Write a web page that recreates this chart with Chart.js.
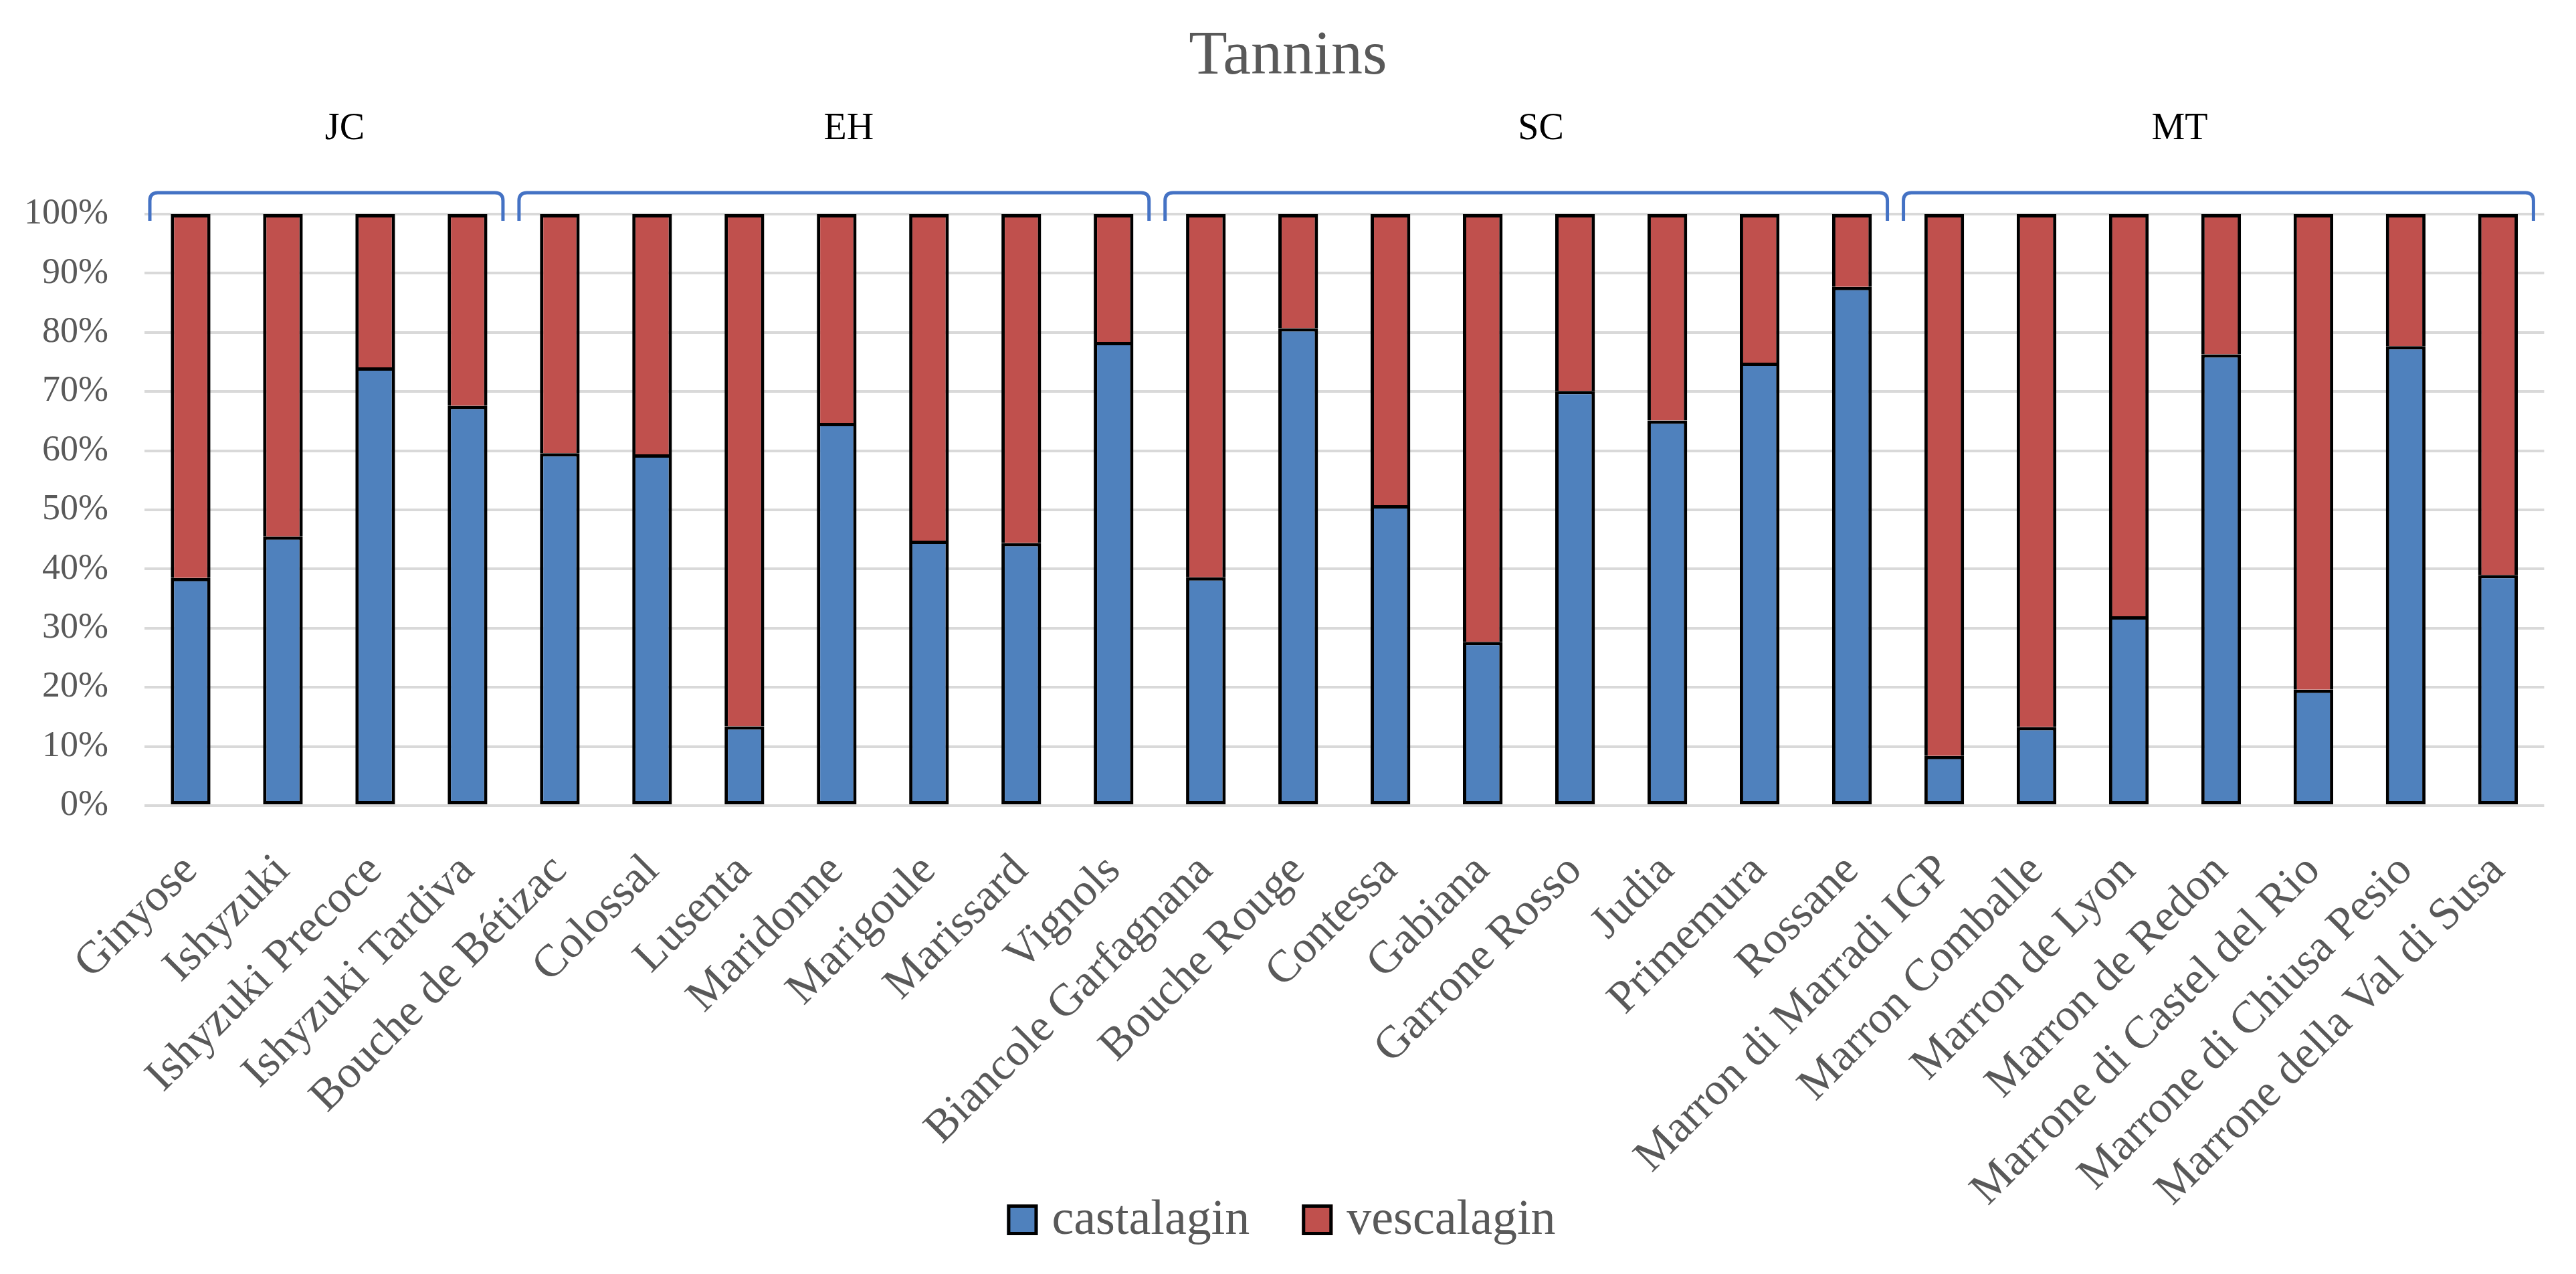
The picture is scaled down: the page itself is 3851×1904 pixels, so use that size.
<!DOCTYPE html>
<html>
<head>
<meta charset="utf-8">
<title>Tannins</title>
<script src="https://cdn.jsdelivr.net/npm/chart.js@4.4.1/dist/chart.umd.min.js"></script>
<style>
  html, body { margin: 0; padding: 0; background: #ffffff; }
  #wrap { width: 3851px; height: 1904px; }
</style>
</head>
<body>
<div id="wrap"><canvas id="tanninChart" width="3851" height="1904"></canvas></div>
<script>
// Cultivars (x categories)
let cultivars = [
  "Ginyose", "Ishyzuki", "Ishyzuki Precoce", "Ishyzuki Tardiva",
  "Bouche de Bétizac", "Colossal", "Lusenta", "Maridonne", "Marigoule", "Marissard", "Vignols",
  "Biancole Garfagnana", "Bouche Rouge", "Contessa", "Gabiana", "Garrone Rosso", "Judia", "Primemura", "Rossane",
  "Marron di Marradi IGP", "Marron Comballe", "Marron de Lyon", "Marron de Redon",
  "Marrone di Castel del Rio", "Marrone di Chiusa Pesio", "Marrone della Val di Susa"
];

// Share of each tannin (%)
let castalagin = [38.5, 45.5, 74.1, 67.6, 59.6, 59.4, 13.4, 64.7, 44.8, 44.4, 78.4,
  38.6, 80.7, 50.8, 27.7, 70.1, 65.1, 74.9, 87.7,
  8.4, 13.3, 32.0, 76.3, 19.6, 77.7, 39.0];
let vescalagin = [61.5, 54.5, 25.9, 32.4, 40.4, 40.6, 86.6, 35.3, 55.2, 55.6, 21.6,
  61.4, 19.3, 49.2, 72.3, 29.9, 34.9, 25.1, 12.3,
  91.6, 86.7, 68.0, 23.7, 80.4, 22.3, 61.0];

// Groups shown with brackets above the bars
let groupNames = ["JC", "EH", "SC", "MT"];
let groupFirst = [0, 4, 11, 19];
let groupLast = [3, 10, 18, 25];
let groupLabelAt = [1.67, 7.13, 14.63, 21.55];

let yTicks = [0, 10, 20, 30, 40, 50, 60, 70, 80, 90, 100];

let grey = "#595959";
let serif = "'Liberation Serif', 'Times New Roman', serif";

// Title, group labels, brackets and legend
// (legend drawn here because the rotated x labels run down beside it)
let annotations = {
  id: "annotations",
  afterDraw: function (chart) {
    let ctx = chart.ctx;
    let x = chart.scales.x;
    let step = x.getPixelForValue(1) - x.getPixelForValue(0);

    ctx.save();
    ctx.fillStyle = grey;
    ctx.textAlign = "center";
    ctx.textBaseline = "alphabetic";
    ctx.font = "94px " + serif;
    ctx.fillText("Tannins", chart.width / 2, 110);

    ctx.strokeStyle = "#4472c4";
    ctx.lineWidth = 5;
    ctx.fillStyle = "#000000";
    ctx.font = "56px " + serif;

    for (let i = 0; i < groupNames.length; i++) {
      let x0 = x.getPixelForValue(groupFirst[i]) - step / 2 + 8;
      let x1 = x.getPixelForValue(groupLast[i]) + step / 2 - 16;
      let top = 288;
      let bottom = 330;
      let r = 12;

      ctx.beginPath();
      ctx.moveTo(x0, bottom);
      ctx.lineTo(x0, top + r);
      ctx.quadraticCurveTo(x0, top, x0 + r, top);
      ctx.lineTo(x1 - r, top);
      ctx.quadraticCurveTo(x1, top, x1, top + r);
      ctx.lineTo(x1, bottom);
      ctx.stroke();

      let lx = x.getPixelForValue(0) + groupLabelAt[i] * step;
      ctx.fillText(groupNames[i], lx, 208);
    }

    // Legend
    let box = 46;
    let gapText = 21;
    let gapItem = 78;
    let legendY = 1823;
    ctx.font = "74px " + serif;
    ctx.textAlign = "left";
    ctx.textBaseline = "middle";
    let items = chart.data.datasets;
    let total = 0;
    items.forEach((ds, i) => {
      total += box + gapText + ctx.measureText(ds.label).width;
      if (i > 0) total += gapItem;
    });
    let lx = chart.width / 2 - 10 - total / 2;
    items.forEach((ds) => {
      ctx.fillStyle = ds.backgroundColor;
      ctx.fillRect(lx, legendY - box / 2, box, box);
      ctx.strokeStyle = "#000000";
      ctx.lineWidth = 5;
      ctx.strokeRect(lx + 2.5, legendY - box / 2 + 2.5, box - 5, box - 5);
      ctx.fillStyle = grey;
      ctx.fillText(ds.label, lx + box + gapText, legendY + 2);
      lx += box + gapText + ctx.measureText(ds.label).width + gapItem;
    });
    ctx.restore();
  },
};

let ctx = document.getElementById("tanninChart").getContext("2d");

let myChart = new Chart(ctx, {
  type: "bar",
  data: {
    labels: cultivars,
    datasets: [
      {
        label: "castalagin",
        data: castalagin,
        backgroundColor: "#4f81bd",
        borderColor: "#000000",
        borderWidth: 5,
        borderSkipped: false,
      },
      {
        label: "vescalagin",
        data: vescalagin,
        backgroundColor: "#c0504d",
        borderColor: "#000000",
        borderWidth: 5,
        borderSkipped: "start",
      },
    ],
  },
  options: {
    responsive: false,
    maintainAspectRatio: false,
    devicePixelRatio: 1,
    animation: false,
    datasets: {
      bar: {
        categoryPercentage: 1,
        barPercentage: 0.43,
      },
    },
    layout: {
      padding: { left: 0, right: 46, top: 320, bottom: 0 },
    },
    plugins: {
      title: { display: false },
      tooltip: { enabled: false },
      legend: { display: false },
    },
    scales: {
      x: {
        stacked: true,
        grid: { display: false, drawTicks: false },
        border: { display: false },
        ticks: {
          color: grey,
          font: { family: serif, size: 68 },
          maxRotation: 45,
          minRotation: 45,
          autoSkip: false,
          padding: 58,
        },
        afterFit: function (scale) {
          scale.height = 700;
        },
      },
      y: {
        stacked: true,
        min: 0,
        max: 100,
        grid: { color: "#d9d9d9", lineWidth: 4, drawTicks: false },
        border: { display: false },
        afterBuildTicks: function (scale) {
          scale.ticks = yTicks.map((v) => ({ value: v }));
        },
        ticks: {
          color: grey,
          font: { family: serif, size: 54 },
          padding: 54,
          callback: function (value) {
            return value + "%";
          },
        },
        afterFit: function (scale) {
          scale.width = 216;
        },
      },
    },
  },
  plugins: [annotations],
});
</script>
</body>
</html>
